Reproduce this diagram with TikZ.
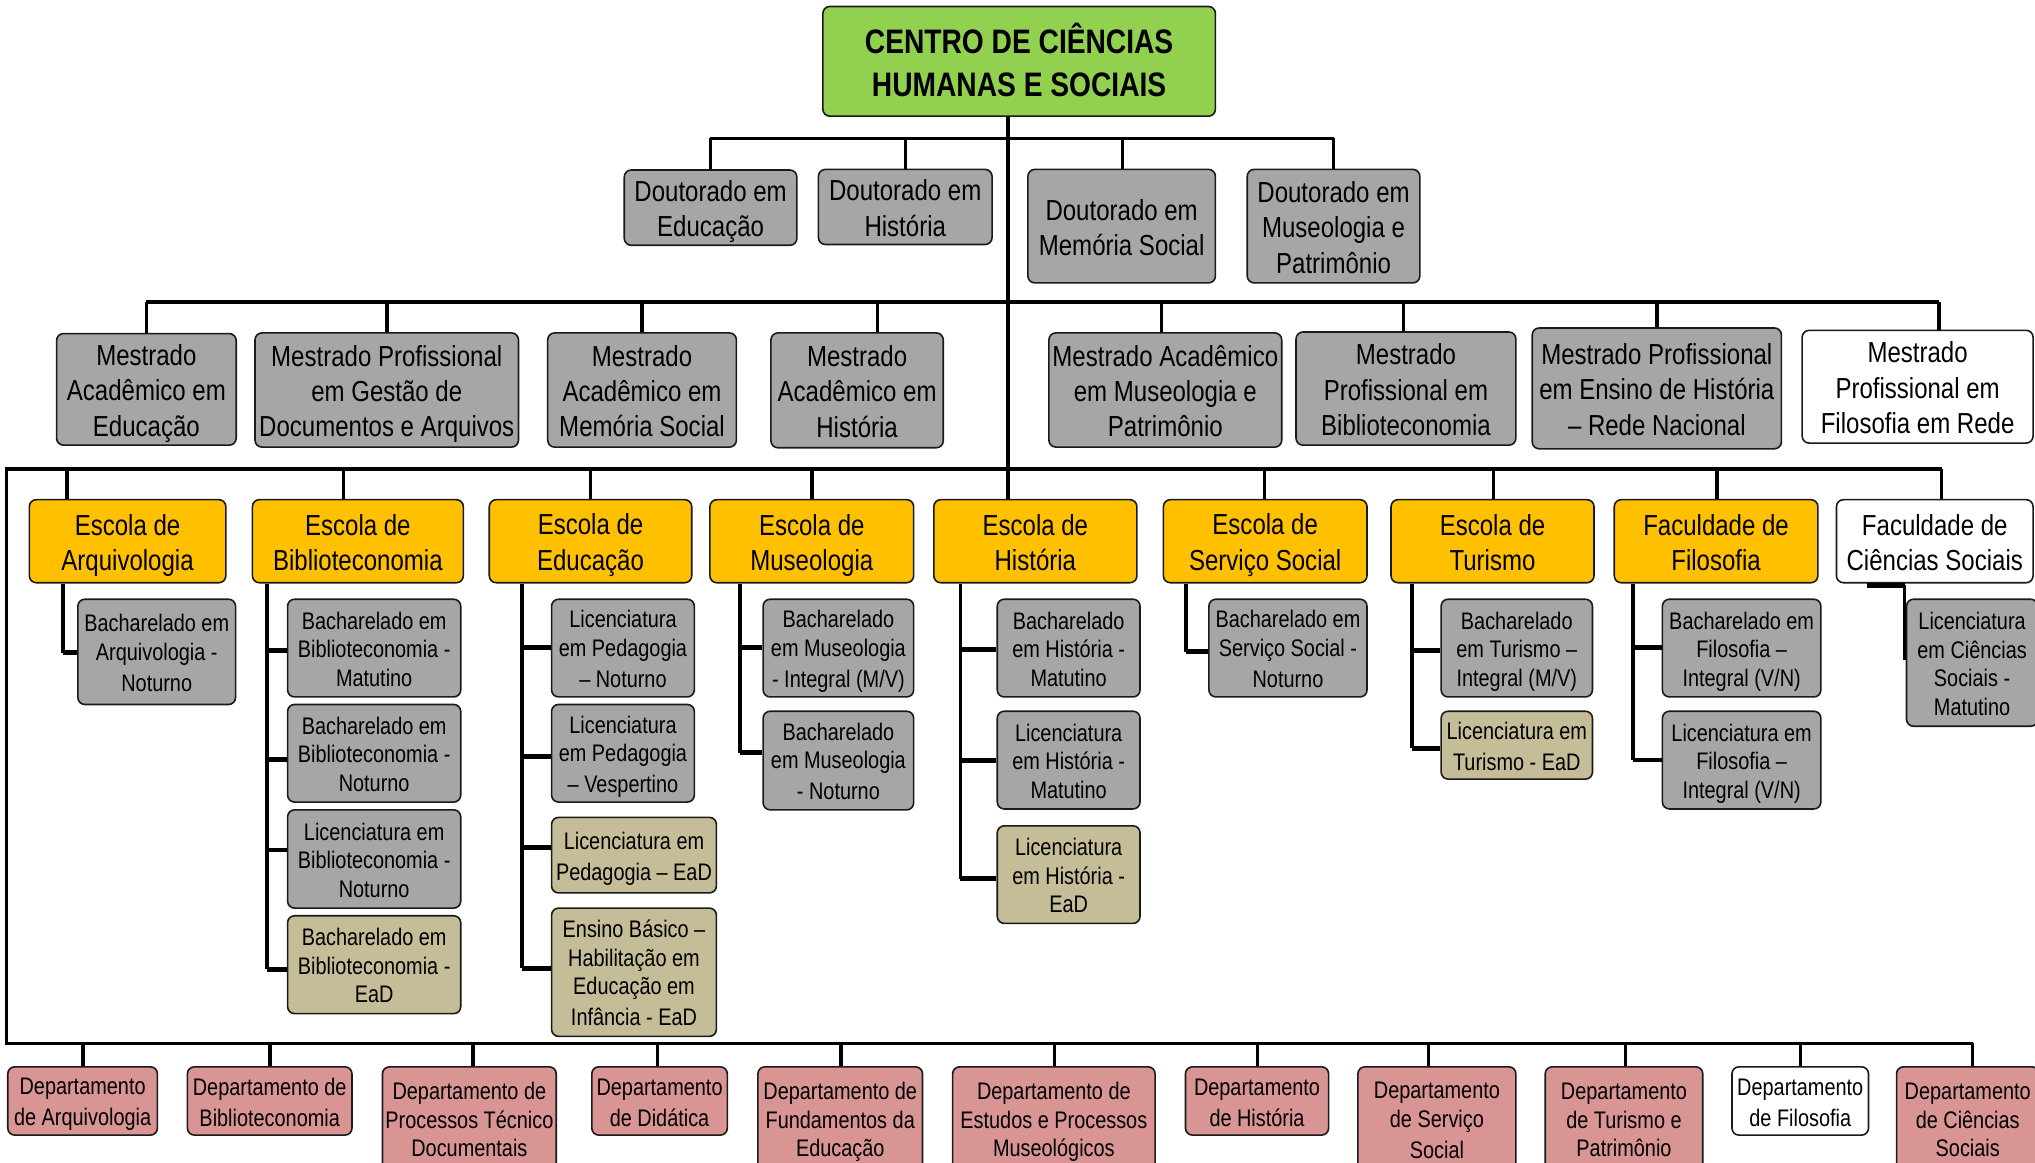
\documentclass[tikz,border=0pt]{standalone}
\usepackage{fontspec}
\setmainfont{Liberation Sans}[FakeStretch=0.83]
\definecolor{cgreen}{HTML}{92D050}
\definecolor{cgray}{HTML}{A6A6A6}
\definecolor{cyellow}{HTML}{FFC000}
\definecolor{ctan}{HTML}{C4BD97}
\definecolor{cpink}{HTML}{D99594}
\definecolor{cline}{HTML}{1A1A1A}
\tikzset{
  box/.style={draw=cline, line width=0.8pt, rounded corners=3.5pt, inner sep=0pt, align=center, text=black},
  big/.style={font=\fontsize{14.5}{17.7}\selectfont},
  small/.style={font=\fontsize{12}{14.3}\selectfont},
  rootbox/.style={box, fill=cgreen, font=\bfseries\fontsize{17}{21.4}\selectfont},
  gbig/.style={box, big, fill=cgray},
  wbig/.style={box, big, fill=white},
  ybig/.style={box, big, fill=cyellow},
  gsmall/.style={box, small, fill=cgray},
  tsmall/.style={box, small, fill=ctan},
  psmall/.style={box, small, fill=cpink},
  wsmall/.style={box, small, fill=white},
  busline/.style={draw=black, line width=1.9pt},
  dropline/.style={draw=black, line width=1.6pt},
  stubline/.style={draw=black, line width=2.4pt},
  vline/.style={draw=black, line width=1.9pt},
}
% uniform strut so that all texts sit alike in their boxes
\newcommand{\st}{\rule[-0.2em]{0pt}{1.2em}}
% box by corners: name, style, x1, y1, x2, y2, text
\newcommand{\bx}[7]{\node[#2, minimum width={(#5-(#3))*0.65pt}, minimum height={(#6-(#4))*0.65pt}] (#1) at ({(#3+#5)/2},{(#4+#6)/2}) {\st#7\st};}
% drop from bus: node, x, bus y
\newcommand{\dropto}[3]{\coordinate (t#1) at (#2,#3); \draw[dropline] (t#1) -- (t#1 |- #1.north);}
% stub from child spine: node, spine x, y
\newcommand{\stubto}[3]{\coordinate (s#1) at (#2,#3); \draw[stubline] (s#1) -- (s#1 -| #1.west);}
% spine under a school: school node, x, bottom y
\newcommand{\spine}[3]{\coordinate (v#1) at (#2,#3); \draw[vline] (v#1 |- #1.south) -- (v#1);}
\begin{document}
\begin{tikzpicture}[x=0.65pt, y=-0.65pt, line join=miter]
\useasboundingbox (0,0) rectangle (1568,896);
\clip (0,0) rectangle (1568,896);

% ---------- root ----------
\bx{root}{rootbox}{634}{5}{936.5}{89.5}{CENTRO DE CIÊNCIAS\\HUMANAS E SOCIAIS}

% ---------- doutorados ----------
\bx{d1}{gbig}{481}{131}{614}{189}{Doutorado em\\Educação}
\bx{d2}{gbig}{630.6}{130.5}{764.4}{188.4}{Doutorado em\\História}
\bx{d3}{gbig}{792}{130.5}{936.5}{218}{Doutorado em\\Memória Social}
\bx{d4}{gbig}{961}{130.5}{1094}{218}{Doutorado em\\Museologia e\\Patrimônio}

% ---------- mestrados ----------
\bx{m1}{gbig}{43.6}{257}{182}{343}{Mestrado\\Acadêmico em\\Educação}
\bx{m2}{gbig}{196.5}{256.5}{399.5}{344.5}{Mestrado Profissional\\em Gestão de\\Documentos e Arquivos}
\bx{m3}{gbig}{422}{256.5}{567.4}{344.5}{Mestrado\\Acadêmico em\\Memória Social}
\bx{m4}{gbig}{594}{256.5}{726.8}{345}{Mestrado\\Acadêmico em\\História}
\bx{m5}{gbig}{808.2}{256.5}{987.6}{344.5}{Mestrado Acadêmico\\em Museologia e\\Patrimônio}
\bx{m6}{gbig}{998.6}{255.8}{1168}{343}{Mestrado\\Profissional em\\Biblioteconomia}
\bx{m7}{gbig}{1180.6}{252.7}{1372.6}{345.8}{Mestrado Profissional\\em Ensino de História\\– Rede Nacional}
\bx{m8}{wbig}{1388.6}{254.5}{1566.5}{341.4}{Mestrado\\Profissional em\\Filosofia em Rede}

% ---------- escolas ----------
\bx{e1}{ybig}{22.6}{385}{174}{449}{Escola de\\Arquivologia}
\bx{e2}{ybig}{194.5}{385}{357}{449}{Escola de\\Biblioteconomia}
\bx{e3}{ybig}{377}{385}{533}{449}{Escola de\\Educação}
\bx{e4}{ybig}{547}{385}{704}{449}{Escola de\\Museologia}
\bx{e5}{ybig}{719.5}{385}{876}{449}{Escola de\\História}
\bx{e6}{ybig}{896.4}{385}{1053.3}{449}{Escola de\\Serviço Social}
\bx{e7}{ybig}{1071.8}{385}{1228.2}{449}{Escola de\\Turismo}
\bx{e8}{ybig}{1243.8}{385}{1400.7}{449}{Faculdade de\\Filosofia}
\bx{e9}{wbig}{1415}{385}{1566.5}{449}{Faculdade de\\Ciências Sociais}

% ---------- cursos ----------
\bx{a1}{gsmall}{60}{461.7}{181.5}{542.8}{Bacharelado em\\Arquivologia -\\Noturno}

\bx{b1}{gsmall}{221.6}{461.7}{355}{537}{Bacharelado em\\Biblioteconomia -\\Matutino}
\bx{b2}{gsmall}{221.6}{542.8}{355}{618}{Bacharelado em\\Biblioteconomia -\\Noturno}
\bx{b3}{gsmall}{221.6}{624}{355}{699.7}{Licenciatura em\\Biblioteconomia -\\Noturno}
\bx{b4}{tsmall}{221.6}{705.6}{355}{781}{Bacharelado em\\Biblioteconomia -\\EaD}

\bx{c1}{gsmall}{425}{461.7}{535}{537}{Licenciatura\\em Pedagogia\\– Noturno}
\bx{c2}{gsmall}{425}{542.8}{535}{618}{Licenciatura\\em Pedagogia\\– Vespertino}
\bx{c3}{tsmall}{425}{629.8}{552}{688}{Licenciatura em\\Pedagogia – EaD}
\bx{c4}{tsmall}{425}{699.7}{552}{798.5}{Ensino Básico –\\Habilitação em\\Educação em\\Infância - EaD}

\bx{f1}{gsmall}{588}{461.7}{704}{537}{Bacharelado\\em Museologia\\- Integral (M/V)}
\bx{f2}{gsmall}{588}{548}{704}{624}{Bacharelado\\em Museologia\\- Noturno}

\bx{h1}{gsmall}{768.4}{461.7}{878.4}{537}{Bacharelado\\em História -\\Matutino}
\bx{h2}{gsmall}{768.4}{548}{878.4}{623.3}{Licenciatura\\em História -\\Matutino}
\bx{h3}{tsmall}{768.4}{636.3}{878.4}{711.5}{Licenciatura\\em História -\\EaD}

\bx{s1}{gsmall}{931.5}{461.7}{1053.3}{537}{Bacharelado em\\Serviço Social -\\Noturno}

\bx{u1}{gsmall}{1110.4}{461.7}{1227}{537}{Bacharelado\\em Turismo –\\Integral (M/V)}
\bx{u2}{tsmall}{1110.4}{548}{1227}{600.3}{Licenciatura em\\Turismo - EaD}

\bx{p1}{gsmall}{1280.9}{461.7}{1403}{537}{Bacharelado em\\Filosofia –\\Integral (V/N)}
\bx{p2}{gsmall}{1280.9}{548}{1403}{623.3}{Licenciatura em\\Filosofia –\\Integral (V/N)}

\bx{q1}{gsmall}{1469}{461.7}{1570}{559.6}{Licenciatura\\em Ciências\\Sociais -\\Matutino}

% ---------- departamentos ----------
\bx{dp1}{psmall}{6}{822}{121.3}{874.6}{Departamento\\de Arquivologia}
\bx{dp2}{psmall}{144.4}{822}{271.2}{874.6}{Departamento de\\Biblioteconomia}
\bx{dp3}{psmall}{294.7}{822}{428.6}{902}{Departamento de\\Processos Técnico\\Documentais}
\bx{dp4}{psmall}{456}{822}{560.4}{874.6}{Departamento\\de Didática}
\bx{dp5}{psmall}{584}{822}{710.8}{902}{Departamento de\\Fundamentos da\\Educação}
\bx{dp6}{psmall}{734}{822}{890}{902}{Departamento de\\Estudos e Processos\\Museológicos}
\bx{dp7}{psmall}{913.4}{822}{1023.7}{874.6}{Departamento\\de História}
\bx{dp8}{psmall}{1046.3}{822}{1168}{902}{Departamento\\de Serviço\\Social}
\bx{dp9}{psmall}{1190.6}{822}{1312}{902}{Departamento\\de Turismo e\\Patrimônio}
\bx{dp10}{wsmall}{1334.5}{822}{1439.7}{874.6}{Departamento\\de Filosofia}
\bx{dp11}{psmall}{1461.3}{822}{1571}{902}{Departamento\\de Ciências\\Sociais}

% ---------- trunk and buses ----------
\coordinate (tr) at (776.5,0);
\draw[busline] (tr |- root.south) -- (tr |- e5.north);
\coordinate (dbL) at (547.4,106.7); \coordinate (dbR) at (1027.7,106.7);
\draw[busline] (dbL) -- (dbR);
\coordinate (mbL) at (112.8,232.5); \coordinate (mbR) at (1494,232.5);
\draw[busline] (mbL) -- (mbR);
\coordinate (ebR) at (1496,361.5); \coordinate (ebL) at (5,361.5);
\coordinate (pbL) at (5,804); \coordinate (pbR) at (1520,804);
\draw[busline] (ebR) -- (ebL) -- (pbL) -- (pbR);

% doutorado drops
\dropto{d1}{547.4}{106.7}
\dropto{d2}{697.7}{106.7}
\dropto{d3}{864.8}{106.7}
\dropto{d4}{1027.7}{106.7}
% mestrado drops
\dropto{m1}{112.8}{232.5}
\dropto{m2}{298.2}{232.5}
\dropto{m3}{494.7}{232.5}
\dropto{m4}{676.2}{232.5}
\dropto{m5}{894.9}{232.5}
\dropto{m6}{1081.3}{232.5}
\dropto{m7}{1276.8}{232.5}
\dropto{m8}{1494}{232.5}
% escola drops
\dropto{e1}{51.6}{361.5}
\dropto{e2}{264.7}{361.5}
\dropto{e3}{455}{361.5}
\dropto{e4}{625.6}{361.5}
\dropto{e6}{974.6}{361.5}
\dropto{e7}{1150.5}{361.5}
\dropto{e8}{1323}{361.5}
\dropto{e9}{1496}{361.5}
% departamento drops
\dropto{dp1}{64}{804}
\dropto{dp2}{208}{804}
\dropto{dp3}{364.4}{804}
\dropto{dp4}{506.3}{804}
\dropto{dp5}{648}{804}
\dropto{dp6}{812.2}{804}
\dropto{dp7}{968.6}{804}
\dropto{dp8}{1100.4}{804}
\dropto{dp9}{1252.3}{804}
\dropto{dp10}{1387}{804}
\dropto{dp11}{1520}{804}

% ---------- course connectors ----------
\spine{e1}{48.6}{503}   \stubto{a1}{48.6}{503}
\spine{e2}{205.5}{747}
\stubto{b1}{205.5}{501.5} \stubto{b2}{205.5}{585} \stubto{b3}{205.5}{655} \stubto{b4}{205.5}{747}
\spine{e3}{402}{746}
\stubto{c1}{402}{499} \stubto{c2}{402}{582.6} \stubto{c3}{402}{652.8} \stubto{c4}{402}{746}
\spine{e4}{570}{580}
\stubto{f1}{570}{499} \stubto{f2}{570}{580}
\spine{e5}{740}{677}
\stubto{h1}{740}{500.6} \stubto{h2}{740}{586} \stubto{h3}{740}{677}
\spine{e6}{914}{502}   \stubto{s1}{914}{502}
\spine{e7}{1087.9}{576.7}
\stubto{u1}{1087.9}{501.5} \stubto{u2}{1087.9}{576.7}
\spine{e8}{1258.3}{585.6}
\stubto{p1}{1258.3}{499} \stubto{p2}{1258.3}{585.6}
\coordinate (qa) at (1438.5,451); \coordinate (qb) at (1467.5,451); \coordinate (qc) at (1467.5,508.5);
\draw[stubline] (qa) -- (qb);
\draw[vline] (qb) -- (qc);
\end{tikzpicture}
\end{document}
